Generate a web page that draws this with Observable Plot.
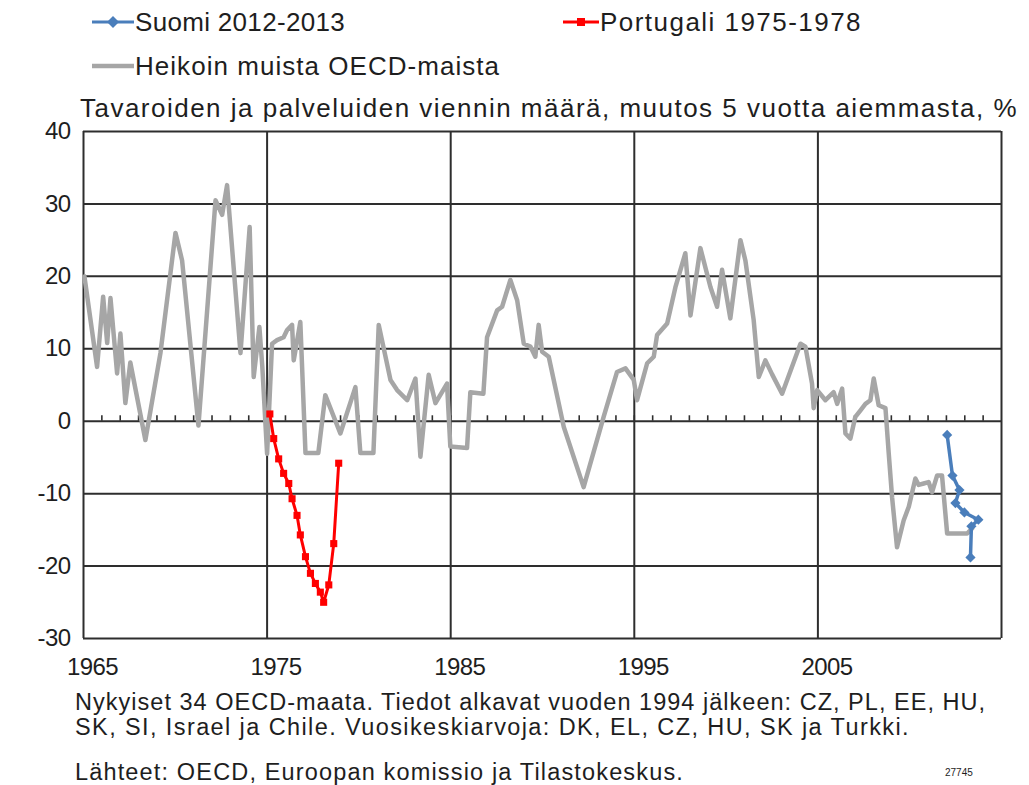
<!DOCTYPE html>
<html><head><meta charset="utf-8">
<script src="https://cdn.jsdelivr.net/npm/d3@7"></script>
<script src="https://cdn.jsdelivr.net/npm/@observablehq/plot@0.6"></script>
<style>
body{margin:0;background:#fff;width:1029px;height:785px;position:relative;overflow:hidden;font-family:"Liberation Sans",Arial,sans-serif;color:#1e1e1e}
.t{position:absolute;white-space:nowrap;line-height:1;transform:translateY(-50%)}
.leg{font-size:26px}
.foot{font-size:23.5px}
.sym{position:absolute}
#chart{position:absolute;left:0;top:118px}
#chart text{letter-spacing:-0.6px}
</style></head><body>
<script>
// ---- data ----
const grayYears = [1965.05,1965.74,1966.07,1966.29,1966.47,1966.83,1967.01,1967.28,1967.55,1968.37,1969.19,1970.01,1970.37,1971.26,1972.19,1972.55,1972.82,1973.55,1974.05,1974.27,1974.58,1974.74,1975.0,1975.27,1975.54,1975.9,1976.09,1976.36,1976.45,1976.81,1977.09,1977.79,1978.17,1978.99,1979.81,1980.08,1980.79,1981.08,1981.72,1982.08,1982.63,1983.08,1983.35,1983.8,1984.17,1984.8,1984.98,1985.89,1986.07,1986.78,1986.98,1987.53,1987.8,1988.25,1988.62,1988.98,1989.34,1989.61,1989.79,1989.98,1990.34,1991.16,1992.24,1993.33,1994.06,1994.52,1994.97,1995.15,1995.7,1996.06,1996.24,1996.79,1997.24,1997.78,1998.06,1998.6,1999.15,1999.51,1999.78,2000.23,2000.78,2001.05,2001.5,2001.78,2002.14,2002.5,2003.05,2004.05,2004.32,2004.68,2004.77,2004.96,2005.41,2005.86,2006.05,2006.32,2006.5,2006.77,2007.04,2007.32,2007.59,2007.86,2008.04,2008.31,2008.68,2008.86,2009.04,2009.31,2009.67,2009.95,2010.31,2010.49,2010.76,2011.03,2011.22,2011.49,2011.76,2012.04,2013.13,2013.4];
const grayValues = [20,7.5,17.2,10.8,17,6.6,12.1,2.5,8.1,-2.6,9.4,26,22.2,-0.6,30.5,28.5,32.6,9.4,26.8,6.1,13.0,7.5,-4.5,10.7,11.2,11.6,12.6,13.3,8.4,13.7,-4.4,-4.4,3.6,-1.7,4.7,-4.4,-4.4,13.3,5.7,4.3,2.9,5.9,-4.9,6.4,2.5,5.2,-3.5,-3.7,4.0,3.8,11.6,15.3,15.8,19.5,16.7,10.7,10.3,8.9,13.3,9.6,8.9,-0.8,-9.1,0.6,6.8,7.3,5.7,2.9,8.0,8.9,11.9,13.5,18.5,23.2,14.6,23.9,18.5,15.8,20.9,14.2,25.0,22.2,14.0,6.1,8.4,6.5,3.8,10.7,10.3,5.2,1.8,4.3,2.9,4.0,2.4,4.5,-1.7,-2.4,0.6,1.5,2.4,2.9,5.9,2.2,1.8,-4.5,-10.5,-17.4,-13.7,-11.8,-7.9,-8.8,-8.6,-8.4,-9.8,-7.5,-7.5,-15.5,-15.5,-14.8];
const redYears = [1975.15,1975.36,1975.63,1975.9,1976.18,1976.36,1976.63,1976.81,1977.09,1977.36,1977.63,1977.9,1978.08,1978.36,1978.63,1978.9];
const redValues = [1.0,-2.4,-5.2,-7.2,-8.6,-10.7,-13.0,-15.7,-18.7,-21.0,-22.4,-23.6,-25.0,-22.6,-16.9,-5.8];
const blueYears = [2012.04,2012.33,2012.71,2012.49,2012.98,2013.74,2013.36,2013.31];
const blueValues = [-1.9,-7.5,-9.5,-11.3,-12.6,-13.6,-14.5,-18.8];
const yTicks = [-30,-20,-10,0,10,20,30,40];
const xGrid = [1965,1975,1985,1995,2005,2015];
const xLabels = [1965,1975,1985,1995,2005];
const yearTicks = d3.range(1966,2015);
const legendLabels = ["Suomi 2012-2013","Portugali 1975-1978","Heikoin muista OECD-maista"];
const titleText = "Tavaroiden ja palveluiden viennin määrä, muutos 5 vuotta aiemmasta, %";
const footLines = ["Nykyiset 34 OECD-maata. Tiedot alkavat vuoden 1994 jälkeen: CZ, PL, EE, HU,","SK, SI, Israel ja Chile. Vuosikeskiarvoja: DK, EL, CZ, HU, SK ja Turkki.","Lähteet: OECD, Euroopan komissio ja Tilastokeskus."];
const chartId = "27745";

const BLUE="#4a7ebb", RED="#ff0000", GRAY="#a6a6a6", GRID="#2e2e2e";
const gray = grayYears.map((x,i)=>({x, y:grayValues[i]}));
const red = redYears.map((x,i)=>({x, y:redValues[i]}));
const blue = blueYears.map((x,i)=>({x, y:blueValues[i]}));

const plot = Plot.plot({
  width:1029, height:565,
  marginLeft:83, marginRight:28, marginTop:13, marginBottom:45,
  style:{fontFamily:'"Liberation Sans",Arial,sans-serif', fontSize:"24px", color:"#1e1e1e", background:"#fff"},
  x:{domain:[1965,2015]},
  y:{domain:[-30,40]},
  marks:[
    Plot.ruleY(yTicks,{stroke:GRID,strokeWidth:2}),
    Plot.ruleX(xGrid,{stroke:GRID,strokeWidth:2}),
    Plot.ruleX(yearTicks,{x:d=>d,y1:0,y2:0.75,stroke:GRID,strokeWidth:1.6}),
    Plot.line(gray,{x:"x",y:"y",stroke:GRAY,strokeWidth:4.5,strokeLinejoin:"round"}),
    Plot.line(red,{x:"x",y:"y",stroke:RED,strokeWidth:3}),
    Plot.dot(red,{x:"x",y:"y",symbol:"square",r:4,fill:RED,stroke:null}),
    Plot.line(blue,{x:"x",y:"y",stroke:BLUE,strokeWidth:3.5}),
    Plot.dot(blue,{x:"x",y:"y",symbol:"diamond2",r:4.6,fill:BLUE,stroke:null}),
    Plot.axisY({ticks:yTicks,tickFormat:d=>String(d),tickSize:0,tickPadding:13,label:null,fontSize:24}),
    Plot.axisX({ticks:xLabels,tickFormat:d=>String(d),tickSize:0,tickPadding:19,label:null,fontSize:24,dx:9})
  ]
});
plot.id="chart";
document.body.appendChild(plot);

function addText(txt, cls, left, yc, right){
  const d=document.createElement("div");
  d.className="t "+cls; d.textContent=txt;
  d.style.left=left+"px"; d.style.top=yc+"px";
  document.body.appendChild(d);
  if(right){
    const w=d.getBoundingClientRect().width;
    d.style.letterSpacing=((right-left-w)/txt.length)+"px";
  }
  return d;
}
function sym(left, yc, color, w, marker){
  const s=document.createElementNS("http://www.w3.org/2000/svg","svg");
  s.setAttribute("class","sym"); s.setAttribute("width",w); s.setAttribute("height",16);
  s.style.left=left+"px"; s.style.top=(yc-8)+"px";
  let h=`<line x1="0" x2="${w}" y1="8" y2="8" stroke="${color}" stroke-width="${marker?3:4.5}"/>`;
  if(marker==="diamond") h+=`<path d="M${w/2},2 L${w/2+6},8 L${w/2},14 L${w/2-6},8Z" fill="${color}"/>`;
  if(marker==="square") h+=`<rect x="${w/2-4}" y="4" width="8" height="8" fill="${color}"/>`;
  s.innerHTML=h; document.body.appendChild(s);
}
sym(92,22,BLUE,42,"diamond");
addText(legendLabels[0],"leg",135,22,345);
sym(563,22,RED,36,"square");
addText(legendLabels[1],"leg",600,22,862);
sym(92,66,GRAY,42,null);
addText(legendLabels[2],"leg",135,66,500);
addText(titleText,"leg",80,108,1018);
addText(footLines[0],"foot",75,703,986);
addText(footLines[1],"foot",75,728,910);
addText(footLines[2],"foot",75,773,684);
const c=addText(chartId,"foot",945,773,null); c.style.fontSize="10px";
</script>
</body></html>
